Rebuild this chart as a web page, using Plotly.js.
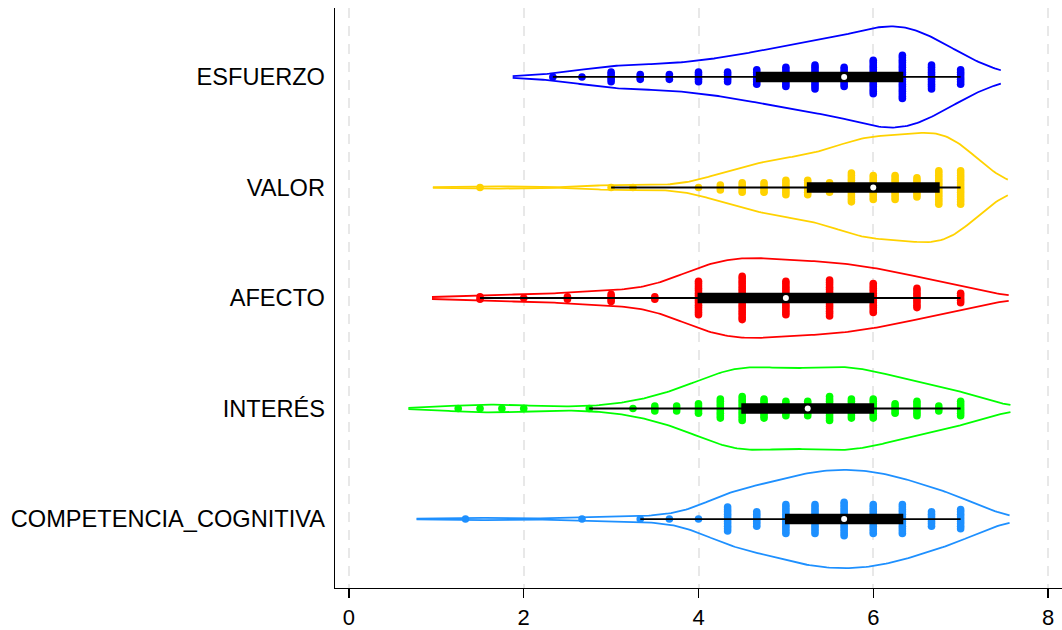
<!DOCTYPE html>
<html><head><meta charset="utf-8">
<script src="https://cdn.plot.ly/plotly-3.0.1.min.js"></script>
<style>html,body{margin:0;padding:0;background:#fff}#chart{width:1062px;height:630px}</style>
</head><body><div id="chart"></div>
<script>
// Categories (top to bottom) and their positions on the y axis
const categories = ['ESFUERZO', 'VALOR', 'AFECTO', 'INTERÉS', 'COMPETENCIA_COGNITIVA'];
const positions = [5, 4, 3, 2, 1];
const colors = ['#0000FF', '#FFD200', '#FF0000', '#00FF00', '#1E90FF'];
// how far each density curve reaches beyond the data range (x units)
const spanExt = [0.46, 0.54, 0.55, 0.57, 0.56];

// Distinct observed values and their counts (read from the dot stacks)
const esfuerzoValues = [2.3333, 2.6667, 3, 3.3333, 3.6667, 4, 4.3333, 4.6667, 5, 5.3333, 5.6667, 6, 6.3333, 6.6667, 7];
const esfuerzoCounts = [1, 1, 5, 3, 3, 5, 5, 7, 9, 11, 9, 15, 19, 11, 7];

const valorValues = [1.5, 3, 3.25, 4, 4.25, 4.5, 4.75, 5, 5.25, 5.5, 5.75, 6, 6.25, 6.5, 6.75, 7];
const valorCounts = [1, 1, 1, 1, 3, 5, 5, 7, 7, 5, 13, 11, 11, 9, 15, 15];

const afectoValues = [1.5, 2, 2.5, 3, 3.5, 4, 4.5, 5, 5.5, 6, 6.5, 7];
const afectoCounts = [2, 1, 2, 4, 2, 15, 19, 15, 16, 13, 9, 5];

const interesValues = [1.25, 1.5, 1.75, 2, 2.75, 3.25, 3.5, 3.75, 4, 4.25, 4.5, 4.75, 5, 5.25, 5.5, 5.75, 6, 6.25, 6.5, 6.75, 7];
const interesCounts = [1, 1, 1, 1, 1, 1, 3, 3, 5, 9, 11, 9, 7, 7, 11, 9, 9, 5, 7, 3, 7];

const competenciaValues = [1.3333, 2.6667, 3.3333, 3.6667, 4, 4.3333, 4.6667, 5, 5.3333, 5.6667, 6, 6.3333, 6.6667, 7];
const competenciaCounts = [1, 1, 1, 1, 1, 11, 7, 13, 13, 15, 13, 13, 7, 9];

const xTicks = [0, 2, 4, 6, 8];

const seriesValues = [esfuerzoValues, valorValues, afectoValues, interesValues, competenciaValues];
const seriesCounts = [esfuerzoCounts, valorCounts, afectoCounts, interesCounts, competenciaCounts];

// style constants
const dotStep = 0.0217;   // vertical spacing of stacked dots (y units)
const halfMax = 0.495;    // half-height of the widest violin (y units)
const yRange = [0.376, 5.624];

function expand(vals, cnts) {
  const out = [];
  vals.forEach((v, i) => { for (let k = 0; k < cnts[i]; k++) out.push(v); });
  return out;
}
function interp(s, p) {
  const idx = p * (s.length - 1), lo = Math.floor(idx), f = idx - lo;
  return lo + 1 < s.length ? s[lo] * (1 - f) + s[lo + 1] * f : s[lo];
}
function silverman(samples) {
  const s = samples.slice().sort((a, b) => a - b), n = s.length;
  const mean = s.reduce((a, b) => a + b, 0) / n;
  const sd = Math.sqrt(s.reduce((a, b) => a + (b - mean) * (b - mean), 0) / (n - 1));
  const iqr = interp(s, 0.75) - interp(s, 0.25);
  return 0.9 * Math.min(sd, iqr / 1.349) * Math.pow(n, -0.2);
}

// kernel density (Gaussian) for each series, scaled by count
const dens = categories.map((cat, ci) => {
  const vals = seriesValues[ci], cnts = seriesCounts[ci];
  const samples = expand(vals, cnts);
  const n = samples.length, bw = silverman(samples);
  const lo = Math.min(...vals) - spanExt[ci], hi = Math.max(...vals) + spanExt[ci];
  const xs = [], fs = [];
  const steps = 240;
  for (let k = 0; k <= steps; k++) {
    const x = lo + (hi - lo) * k / steps;
    let f = 0;
    vals.forEach((v, i) => { const z = (x - v) / bw; f += cnts[i] * Math.exp(-0.5 * z * z); });
    f = f / (n * bw * Math.sqrt(2 * Math.PI));
    xs.push(x); fs.push(f * n);
  }
  return { xs, fs, samples };
});
const maxF = Math.max(...dens.map(d => Math.max(...d.fs)));

const traces = [];
// dot stacks (main subplot, underneath)
categories.forEach((cat, ci) => {
  const xs = [], ys = [];
  seriesValues[ci].forEach((v, i) => {
    const n = seriesCounts[ci][i];
    for (let k = 0; k < n; k++) { xs.push(v); ys.push(positions[ci] + (k - (n - 1) / 2) * dotStep); }
  });
  traces.push({
    type: 'scatter', mode: 'markers', x: xs, y: ys, xaxis: 'x', yaxis: 'y',
    marker: { color: colors[ci], size: 7.6, line: { width: 0 } },
    hoverinfo: 'skip', showlegend: false
  });
});
// violin outlines (open at the ends)
categories.forEach((cat, ci) => {
  const d = dens[ci];
  [1, -1].forEach(sgn => {
    traces.push({
      type: 'scatter', mode: 'lines', x: d.xs,
      y: d.fs.map(f => positions[ci] + sgn * f / maxF * halfMax),
      xaxis: 'x', yaxis: 'y2',
      line: { color: colors[ci], width: 1.8 },
      hoverinfo: 'skip', showlegend: false
    });
  });
});
// box + whiskers from the library's box statistics (violin body hidden)
categories.forEach((cat, ci) => {
  const samples = dens[ci].samples;
  traces.push({
    type: 'violin', orientation: 'h', name: cat,
    x: samples, y: samples.map(() => positions[ci]),
    xaxis: 'x', yaxis: 'y2',
    line: { color: 'rgba(0,0,0,0)', width: 0 },
    fillcolor: 'rgba(0,0,0,0)',
    points: false, width: 0.99,
    quartilemethod: 'exclusive',
    box: { visible: true, width: 0.08, fillcolor: '#000000', line: { color: '#000000', width: 1.8 } },
    meanline: { visible: false },
    hoverinfo: 'skip', showlegend: false
  });
});
// medians as white dots
categories.forEach((cat, ci) => {
  const s = dens[ci].samples.slice().sort((a, b) => a - b);
  traces.push({
    type: 'scatter', mode: 'markers', x: [interp(s, 0.5)], y: [positions[ci]],
    xaxis: 'x', yaxis: 'y2',
    marker: { color: '#FFFFFF', size: 6, line: { width: 0 } },
    hoverinfo: 'skip', showlegend: false
  });
});

const layout = {
  width: 1062, height: 630,
  margin: { l: 335, r: 0, t: 8, b: 42 },
  paper_bgcolor: '#ffffff', plot_bgcolor: '#ffffff',
  showlegend: false, hovermode: false,
  font: { family: 'Liberation Sans, Arial, sans-serif', color: '#000000' },
  violinmode: 'overlay',
  xaxis: {
    range: [-0.16, 8.16], tickmode: 'array', tickvals: xTicks, ticktext: xTicks.map(String),
    ticks: 'outside', ticklen: 9, tickwidth: 1.3, tickcolor: '#000000',
    showline: true, linecolor: '#000000', linewidth: 1.3,
    showgrid: true, gridcolor: '#E8E8E8', gridwidth: 2, griddash: '10px,8px',
    zeroline: false, tickfont: { size: 22 }, automargin: false
  },
  yaxis: {
    range: yRange, tickmode: 'array', tickvals: positions, ticktext: categories,
    ticks: '', showline: true, linecolor: '#000000', linewidth: 1.3,
    showgrid: false, zeroline: false, tickfont: { size: 23.6 }, automargin: false,
    ticklabelstandoff: 4
  },
  yaxis2: { range: yRange, overlaying: 'y', visible: false }
};

Plotly.newPlot('chart', traces, layout, { staticPlot: true, displayModeBar: false });
</script>
</body></html>
